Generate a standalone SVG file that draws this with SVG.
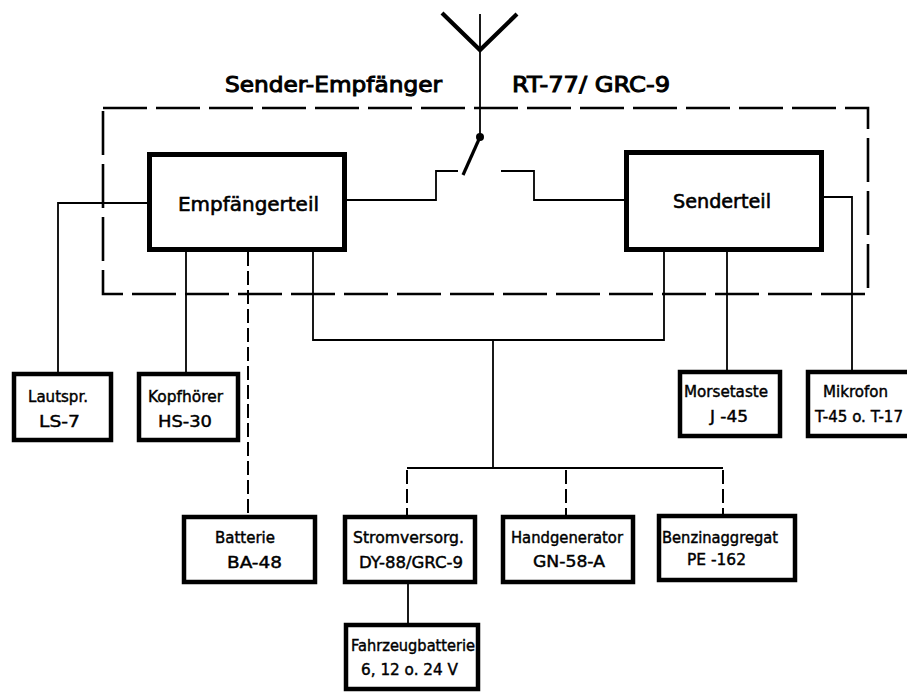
<svg xmlns="http://www.w3.org/2000/svg" width="907" height="692" viewBox="0 0 907 692">
<style>
.box{fill:#fff;stroke:#000;stroke-width:4.5}
.big{fill:#fff;stroke:#000;stroke-width:5}
.ln{fill:none;stroke:#000;stroke-width:1.8}
.dl{fill:none;stroke:#000;stroke-width:2;stroke-dasharray:14 5}
.enc{fill:none;stroke:#000;stroke-width:2.6;stroke-dasharray:44 9}
text{font-family:"DejaVu Sans","Liberation Sans",sans-serif;fill:#000;stroke:#000;stroke-width:0.45}
.s{font-size:16px}
.m{font-size:20px;stroke-width:0.6}
.t{font-size:22px;stroke-width:1}
</style>
<rect width="907" height="692" fill="#fff"/>
<g id="enclosure">
<path class="enc" d="M103 108 H868 V294 H103 Z"/>
<text class="t" x="225" y="92" textLength="217" lengthAdjust="spacingAndGlyphs">Sender-Empfänger</text>
<text class="t" x="512" y="92" textLength="158" lengthAdjust="spacingAndGlyphs">RT-77/ GRC-9</text>
</g>
<g id="antenna">
<path d="M442 13 L480 50 L517 14" fill="none" stroke="#000" stroke-width="4.2" stroke-linejoin="miter"/>
<path d="M480 14 V137" class="ln"/>
<path d="M480 137 L463 175" fill="none" stroke="#000" stroke-width="3.2"/>
<circle cx="480" cy="137" r="4" fill="#000"/>
</g>
<g id="connectors">
<path class="ln" d="M347 200 H436 V171 H458"/>
<path class="ln" d="M501 171 H534 V200 H624"/>
<path class="ln" d="M147 203 H58 V372"/>
<path class="ln" d="M186 252 V372"/>
<path class="dl" d="M248 252 V515"/>
<path class="ln" d="M313 252 V340 H664 V252"/>
<path class="ln" d="M493 340 V468"/>
<path class="ln" d="M407 468 H723"/>
<path class="dl" d="M407 470 V515"/>
<path class="dl" d="M566 470 V515"/>
<path class="dl" d="M723 470 V514"/>
<path class="ln" d="M408 584 V623"/>
<path class="ln" d="M727 252 V370"/>
<path class="ln" d="M824 197 H852 V370"/>
</g>
<g id="empfaengerteil">
<rect class="big" x="149.5" y="154.5" width="195" height="95"/>
<text class="m" x="178" y="211" textLength="141" lengthAdjust="spacingAndGlyphs">Empfängerteil</text>
</g>
<g id="senderteil">
<rect class="big" x="626.5" y="152.5" width="195" height="97"/>
<text class="m" x="673" y="208" textLength="98" lengthAdjust="spacingAndGlyphs">Senderteil</text>
</g>
<g id="lautsprecher">
<rect class="box" x="14" y="374" width="97" height="66"/>
<text class="s" x="28" y="402" textLength="60" lengthAdjust="spacingAndGlyphs">Lautspr.</text>
<text class="s" x="39" y="427" textLength="41" lengthAdjust="spacingAndGlyphs">LS-7</text>
</g>
<g id="kopfhoerer">
<rect class="box" x="139" y="374" width="99" height="66"/>
<text class="s" x="148" y="402" textLength="75" lengthAdjust="spacingAndGlyphs">Kopfhörer</text>
<text class="s" x="158" y="427" textLength="54" lengthAdjust="spacingAndGlyphs">HS-30</text>
</g>
<g id="morsetaste">
<rect class="box" x="680" y="372" width="100" height="64"/>
<text class="s" x="684" y="397" textLength="84" lengthAdjust="spacingAndGlyphs">Morsetaste</text>
<text class="s" x="710" y="422" textLength="38" lengthAdjust="spacingAndGlyphs">J -45</text>
</g>
<g id="mikrofon">
<rect class="box" x="808" y="372" width="110" height="64"/>
<text class="s" x="823" y="397" textLength="65" lengthAdjust="spacingAndGlyphs">Mikrofon</text>
<text class="s" x="815" y="422" textLength="88" lengthAdjust="spacingAndGlyphs">T-45 o. T-17</text>
</g>
<g id="batterie">
<rect class="box" x="184" y="517" width="131" height="65"/>
<text class="s" x="215" y="543" textLength="60" lengthAdjust="spacingAndGlyphs">Batterie</text>
<text class="s" x="227" y="568" textLength="55" lengthAdjust="spacingAndGlyphs">BA-48</text>
</g>
<g id="stromversorgung">
<rect class="box" x="345" y="517" width="130" height="65"/>
<text class="s" x="353" y="543" textLength="111" lengthAdjust="spacingAndGlyphs">Stromversorg.</text>
<text class="s" x="359" y="568" textLength="104" lengthAdjust="spacingAndGlyphs">DY-88/GRC-9</text>
</g>
<g id="handgenerator">
<rect class="box" x="503" y="517" width="130" height="65"/>
<text class="s" x="511" y="543" textLength="112" lengthAdjust="spacingAndGlyphs">Handgenerator</text>
<text class="s" x="533" y="567" textLength="72" lengthAdjust="spacingAndGlyphs">GN-58-A</text>
</g>
<g id="benzinaggregat">
<rect class="box" x="659" y="516" width="136" height="64"/>
<text class="s" x="662" y="543" textLength="116" lengthAdjust="spacingAndGlyphs">Benzinaggregat</text>
<text class="s" x="687" y="565" textLength="59" lengthAdjust="spacingAndGlyphs">PE -162</text>
</g>
<g id="fahrzeugbatterie">
<rect class="box" x="346" y="625" width="132" height="64"/>
<text class="s" x="351" y="651" textLength="124" lengthAdjust="spacingAndGlyphs">Fahrzeugbatterie</text>
<text class="s" x="361" y="675" textLength="97" lengthAdjust="spacingAndGlyphs">6, 12 o. 24 V</text>
</g>
</svg>
